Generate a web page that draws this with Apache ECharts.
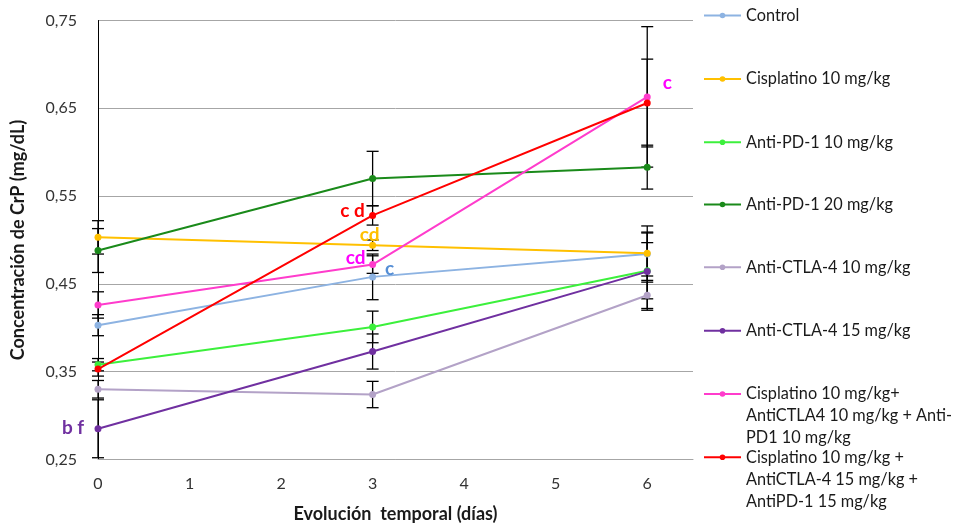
<!DOCTYPE html>
<html><head><meta charset="utf-8">
<script src="https://cdn.jsdelivr.net/npm/echarts@6/dist/echarts.min.js"></script>
<style>html,body{margin:0;padding:0;background:#fff}#c{width:960px;height:525px}</style>
</head><body><div id="c"></div>
<script>
// ---- data ----
const days = [0, 3, 6];
const xTickLabels = ['0', '1', '2', '3', '4', '5', '6'];
const yTickValues = [0.25, 0.35, 0.45, 0.55, 0.65, 0.75];

const seriesNames = [
  'Control',
  'Cisplatino 10 mg/kg',
  'Anti-PD-1 10 mg/kg',
  'Anti-PD-1 20 mg/kg',
  'Anti-CTLA-4 10 mg/kg',
  'Anti-CTLA-4 15 mg/kg',
  'Cisplatino 10 mg/kg+ AntiCTLA4 10 mg/kg + Anti-PD1 10 mg/kg',
  'Cisplatino 10 mg/kg + AntiCTLA-4 15 mg/kg + AntiPD-1 15 mg/kg'
];
const legendTexts = [
  ['Control'],
  ['Cisplatino 10 mg/kg'],
  ['Anti-PD-1 10 mg/kg'],
  ['Anti-PD-1 20 mg/kg'],
  ['Anti-CTLA-4 10 mg/kg'],
  ['Anti-CTLA-4 15 mg/kg'],
  ['Cisplatino 10 mg/kg+', 'AntiCTLA4 10 mg/kg + Anti-', 'PD1 10 mg/kg'],
  ['Cisplatino 10 mg/kg +', 'AntiCTLA-4 15 mg/kg +', 'AntiPD-1 15 mg/kg']
];

const control      = [0.403, 0.458, 0.484];
const cisplatino   = [0.503, 0.494, 0.485];
const antiPD1_10   = [0.358, 0.401, 0.465];
const antiPD1_20   = [0.488, 0.570, 0.583];
const antiCTLA4_10 = [0.330, 0.324, 0.437];
const antiCTLA4_15 = [0.285, 0.373, 0.464];
const combo10      = [0.426, 0.472, 0.663];
const combo15      = [0.353, 0.528, 0.656];

const controlErr      = [0.012, 0.026, 0.025];
const cisplatinoErr   = [0.019, 0.006, 0.031];
const antiPD1_10Err   = [0.007, 0.018, 0.032];
const antiPD1_20Err   = [0.025, 0.031, 0.025];
const antiCTLA4_10Err = [0.010, 0.015, 0.015];
const antiCTLA4_15Err = [0.033, 0.020, 0.044];
const combo10Err      = [0.015, 0.010, 0.080];
const combo15Err      = [0.008, 0.011, 0.050];

// significance letters: [series index, point index, text]
const sigLetters = [
  [5, 0, 'b f'],
  [7, 1, 'c d'],
  [1, 1, 'cd'],
  [6, 1, 'cd'],
  [0, 1, 'c'],
  [6, 2, 'c']
];

// ---- styles ----
const allValues = [control, cisplatino, antiPD1_10, antiPD1_20, antiCTLA4_10, antiCTLA4_15, combo10, combo15];
const allErrors = [controlErr, cisplatinoErr, antiPD1_10Err, antiPD1_20Err, antiCTLA4_10Err, antiCTLA4_15Err, combo10Err, combo15Err];
const colors = ['#8db3e2', '#ffc000', '#3cf03c', '#1a8a1a', '#b3a2c7', '#7030a0', '#ff3ccc', '#ff0000'];
const sigColors = ['#7030a0', '#ff0000', '#ffc000', '#ff00ff', '#558ed5', '#ff00ff'];
const sigOffsets = [[-25, -1], [-20, -5], [-3, -10], [-17, -7], [17, -8], [20, -14]];
const legendCenters = [15.5, 79, 142.3, 204.5, 267.3, 330.7, 394, 457.3];
const FONT = 'Lato';
const LH = 22;

const chart = echarts.init(document.getElementById('c'), null, {renderer: 'canvas'});

const series = [];
// error bars
const errData = [];
allValues.forEach((vals, si) => {
  vals.forEach((v, i) => {
    errData.push([days[i], v - allErrors[si][i], v + allErrors[si][i]]);
  });
});
series.push({
  type: 'custom',
  name: 'err',
  z: 1,
  silent: true,
  data: errData,
  encode: {x: 0, y: [1, 2]},
  renderItem: function (params, api) {
    const x = api.value(0);
    const lo = api.coord([x, api.value(1)]);
    const hi = api.coord([x, api.value(2)]);
    const w = 6;
    const st = {stroke: '#000', lineWidth: 1.3};
    return {type: 'group', children: [
      {type: 'line', shape: {x1: hi[0], y1: hi[1], x2: lo[0], y2: lo[1]}, style: st},
      {type: 'line', shape: {x1: hi[0] - w, y1: hi[1], x2: hi[0] + w, y2: hi[1]}, style: st},
      {type: 'line', shape: {x1: lo[0] - w, y1: lo[1], x2: lo[0] + w, y2: lo[1]}, style: st}
    ]};
  }
});

allValues.forEach((vals, si) => {
  const data = vals.map((v, i) => {
    const item = {value: [days[i], v]};
    sigLetters.forEach((s, k) => {
      if (s[0] === si && s[1] === i) {
        item.label = {
          show: true, formatter: s[2], position: 'inside',
          offset: sigOffsets[k], align: 'center', verticalAlign: 'middle',
          color: sigColors[k], fontFamily: FONT, fontWeight: 'bold', fontSize: 19
        };
      }
    });
    return item;
  });
  series.push({
    type: 'line',
    name: seriesNames[si],
    z: 3,
    data: data,
    symbol: 'circle',
    symbolSize: 7,
    showSymbol: true,
    lineStyle: {width: 2, color: colors[si]},
    itemStyle: {color: colors[si]},
    emphasis: {disabled: true}
  });
});

const legends = seriesNames.map((n, si) => {
  const lines = legendTexts[si];
  const multi = lines.length > 1;
  const text = multi ? '\n\n' + lines.join('\n') : lines[0];
  const h = multi ? LH * 5 : LH;
  return {
    data: [n],
    orient: 'vertical',
    left: 703,
    top: legendCenters[si] - h / 2,
    padding: 0,
    itemWidth: 37,
    itemHeight: 7,
    itemGap: 4,
    formatter: () => text,
    textStyle: {fontFamily: FONT, fontSize: 16.3, color: '#1a1a1a', lineHeight: LH}
  };
});

chart.setOption({
  animation: false,
  color: colors,
  textStyle: {fontFamily: FONT},
  grid: {left: 98, right: 267, top: 20.5, bottom: 65.5, containLabel: false, outerBoundsMode: 'none'},
  legend: legends,
  xAxis: {
    type: 'value', min: 0, max: 6.5, interval: 1,
    name: 'Evolución  temporal (días)',
    nameLocation: 'middle', nameGap: 46,
    nameTextStyle: {fontFamily: FONT, fontWeight: 'bold', fontSize: 18, color: '#1a1a1a'},
    axisLine: {show: true, lineStyle: {color: '#a6a6a6', width: 1}},
    axisTick: {show: false},
    splitLine: {show: false},
    axisLabel: {
      showMaxLabel: false, margin: 16, fontFamily: FONT, fontSize: 16, color: '#333',
      formatter: v => (Number.isInteger(v) && xTickLabels[v] !== undefined) ? xTickLabels[v] : ''
    }
  },
  yAxis: {
    type: 'value', min: yTickValues[0], max: yTickValues[yTickValues.length - 1], interval: 0.1,
    name: 'Concentración de CrP (mg/dL)',
    nameLocation: 'middle', nameGap: 71,
    nameTextStyle: {fontFamily: FONT, fontWeight: 'bold', fontSize: 18, color: '#1a1a1a'},
    axisLine: {show: true, lineStyle: {color: '#000', width: 1}},
    axisTick: {show: false},
    splitLine: {show: true, lineStyle: {color: '#a6a6a6', width: 1}},
    axisLabel: {
      margin: 21, fontFamily: FONT, fontSize: 16, color: '#333',
      formatter: v => v.toFixed(2).replace('.', ',')
    }
  },
  series: series
});
</script>
</body></html>
